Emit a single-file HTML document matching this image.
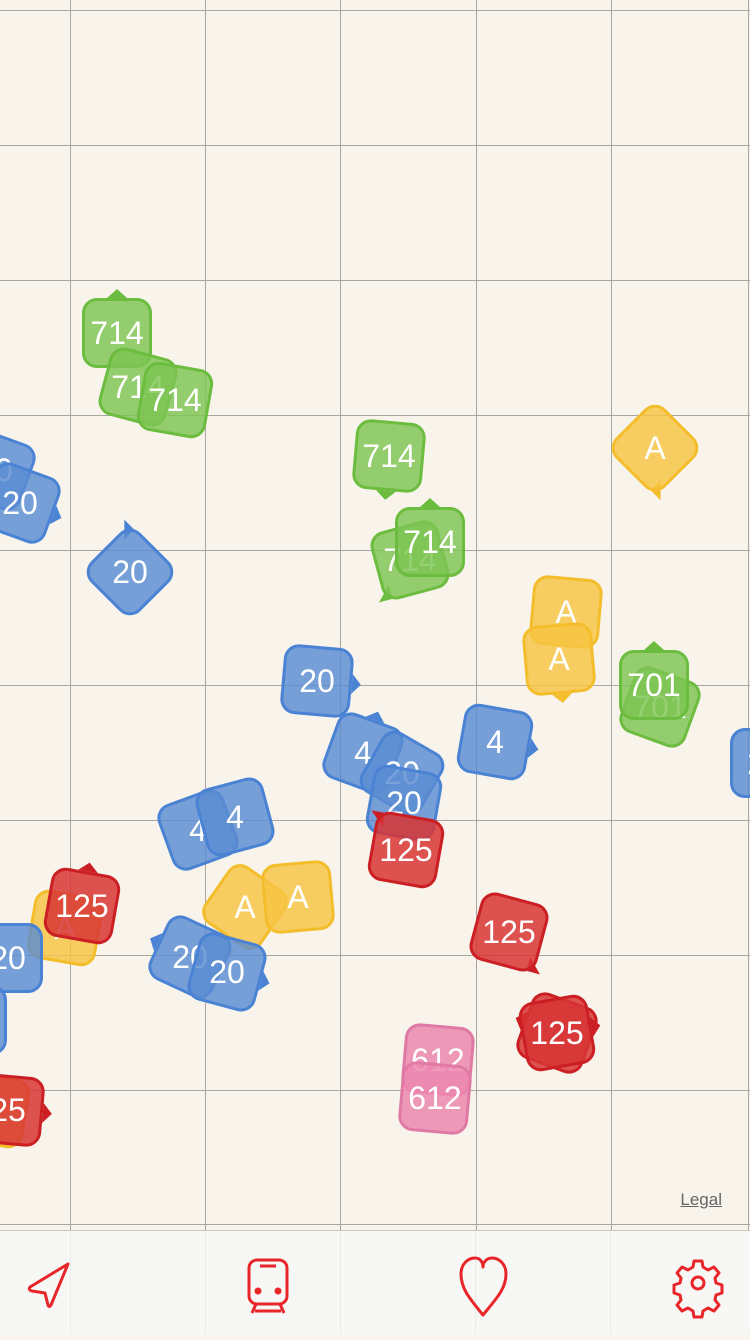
<!DOCTYPE html>
<html><head><meta charset="utf-8"><style>
html,body{margin:0;padding:0}
body{width:750px;height:1334px;position:relative;overflow:hidden;background:#f8f4ec;font-family:"Liberation Sans",sans-serif}
#map{position:absolute;left:0;top:0;width:750px;height:1230px;overflow:hidden}
.gl{position:absolute;background:#a9a6a0}
.m{position:absolute;width:70px;height:70px;margin:-35px 0 0 -35px}
.box{position:absolute;left:0;top:0;width:64px;height:64px;border-radius:15px;border:3px solid}
.txt{position:absolute;left:0;top:0;width:70px;height:70px;display:flex;align-items:center;justify-content:center;color:#fff;font-size:32px}
.ptr{position:absolute;width:0;height:0}
#tab{position:absolute;left:0;top:1230px;width:750px;height:104px;background:#f7f7f5;border-top:1px solid #c9c6c0}
#legal{position:absolute;right:28px;top:1190px;font-size:17px;color:#666;text-decoration:underline}
</style></head><body>
<div id="map"></div>
<a id="legal">Legal</a>
<div id="tab">
<svg width="750" height="104">
<g stroke="#eaeae8" stroke-width="1"><line x1="70.5" y1="0" x2="70.5" y2="104"/><line x1="205.5" y1="0" x2="205.5" y2="104"/><line x1="340.5" y1="0" x2="340.5" y2="104"/><line x1="475.5" y1="0" x2="475.5" y2="104"/><line x1="610.5" y1="0" x2="610.5" y2="104"/></g>
<g fill="none" stroke="#e8262a" stroke-width="3" stroke-linejoin="round">
<path d="M68 33 L30 56 Q28 59 32 60 L45 62 L48 74 Q49 77 51 74 Z"/>
<g><rect x="249" y="29" width="38" height="44" rx="8"/><line x1="260" y1="35" x2="276" y2="35"/><line x1="255" y1="80" x2="281" y2="80"/><line x1="256" y1="73" x2="252" y2="82"/><line x1="280" y1="73" x2="284" y2="82"/><circle cx="258" cy="60" r="2" fill="#e8262a"/><circle cx="278" cy="60" r="2" fill="#e8262a"/></g>
<path d="M483 84 C470 68 461 58 461 43 C461 33 468 27 475 27 C480 27 483 31 483 36 C483 31 487 27 492 27 C499 27 506 33 506 43 C506 58 496 68 483 84 Z"/>
<g><circle cx="698" cy="52" r="6"/><path d="M694 30 h8 l1 6 l5 3 l6 -3 l5 6 l-4 5 l1 5 l6 2 v8 l-6 2 l-1 5 l4 5 l-5 6 l-6 -3 l-5 3 l-1 6 h-8 l-1 -6 l-5 -3 l-6 3 l-5 -6 l4 -5 l-1 -5 l-6 -2 v-8 l6 -2 l1 -5 l-4 -5 l5 -6 l6 3 l5 -3 Z"/></g>
</g></svg></div>
<script>
const vx=[70,205,340,476,611,748];
const hy=[10,145,280,415,550,685,820,955,1090,1224];
const labels=["714","714","714","714","714","714","A","20","20","20","A","A","701","701","20","4","20","20","4","20","4","4","125","A","125","A","A","125","20","20","20","125","125","612","612","A","25","20"];
const colors=["g","g","g","g","g","g","y","b","b","b","y","y","g","g","b","b","b","b","b","b","b","b","r","y","r","y","y","r","b","b","b","r","r","p","p","y","r","b"];
const cx=[117,138,175,389,410,430,655,-5,20,130,566,559,660,654,317,363,402,404,495,765,198,235,406,65,82,245,298,509,8,190,227,557,557,438,435,-8,8,-28];
const cy=[333,387,400,456,560,542,448,470,503,572,612,659,707,685,681,753,773,803,742,763,830,817,850,928,906,907,897,932,958,957,972,1033,1033,1060,1098,1110,1110,1020];
const rot=[0,15,10,5,-15,0,45,20,20,45,5,-5,20,0,5,20,30,10,10,0,-20,-15,10,10,10,35,-5,15,0,25,15,20,-10,5,5,10,5,0];
const ptr=["t","","","b","bl","t","br","","r","tl","","b","","t","r","t","","","r","","","","tl","","t","","","br","l","l","r","l","r","","","","r",""];
const pal={g:["rgba(124,197,82,.82)","#6cbd3f"],b:["rgba(90,140,210,.82)","#4a82d4"],y:["rgba(247,196,66,.82)","#f3bd2c"],r:["rgba(216,52,52,.85)","#cc1f24"],p:["rgba(236,135,175,.85)","#e07aa5"]};
const map=document.getElementById('map');
vx.forEach(x=>{const d=document.createElement('div');d.className='gl';


d.style.cssText=`left:${x}px;top:0;width:1px;height:1230px`;map.appendChild(d);});
hy.forEach(y=>{const d=document.createElement('div');d.className='gl';


d.style.cssText=`left:0;top:${y}px;width:750px;height:1px`;map.appendChild(d);});
labels.forEach((t,i)=>{const c=pal[colors[i]];const m=document.createElement('div');m.className='m';


m.style.left=cx[i]+'px';m.style.top=cy[i]+'px';
const r=document.createElement('div');r.style.cssText=`position:absolute;left:0;top:0;width:70px;height:70px;transform:rotate(${rot[i]}deg)`;


const p=ptr[i];if(p){const a=document.createElement('div');a.className='ptr';


const s=10;let css='';
if(p=='t')css=`left:${35-s}px;top:-9px;border-left:${s}px solid transparent;border-right:${s}px solid transparent;border-bottom:9px solid ${c[1]}`;
if(p=='b')css=`left:${35-s}px;top:70px;border-left:${s}px solid transparent;border-right:${s}px solid transparent;border-top:9px solid ${c[1]}`;
if(p=='r')css=`left:70px;top:${35-s}px;border-top:${s}px solid transparent;border-bottom:${s}px solid transparent;border-left:9px solid ${c[1]}`;
if(p=='l')css=`left:-9px;top:${35-s}px;border-top:${s}px solid transparent;border-bottom:${s}px solid transparent;border-right:9px solid ${c[1]}`;
if(p=='bl')css=`left:-6px;top:54px;border-top:14px solid transparent;border-right:14px solid ${c[1]}`;
if(p=='br')css=`left:62px;top:54px;border-top:14px solid transparent;border-left:14px solid ${c[1]}`;
if(p=='tl')css=`left:-6px;top:2px;border-bottom:14px solid transparent;border-right:14px solid ${c[1]}`;
a.style.cssText=css;r.appendChild(a);}
const b=document.createElement('div');b.className='box';


b.style.background=c[0];b.style.borderColor=c[1];r.appendChild(b);m.appendChild(r);
const tx=document.createElement('div');tx.className='txt';


tx.textContent=t;m.appendChild(tx);map.appendChild(m);});
</script>
</body></html>
